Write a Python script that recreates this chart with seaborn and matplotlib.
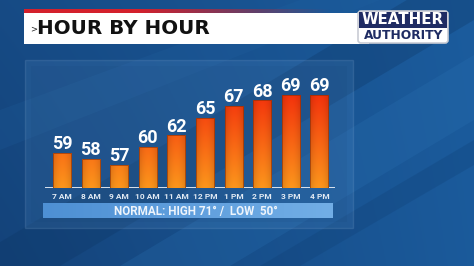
import numpy as np
import pandas as pd
import matplotlib
matplotlib.use("Agg")
import matplotlib.pyplot as plt
import seaborn as sns
from matplotlib.patches import Rectangle, Polygon, FancyBboxPatch
from matplotlib.colors import to_rgb

# ---------------- data ----------------
hours = ["7 AM", "8 AM", "9 AM", "10 AM", "11 AM", "12 PM", "1 PM", "2 PM", "3 PM", "4 PM"]
temps = [59, 58, 57, 60, 62, 65, 67, 68, 69, 69]
normal_high = 71
normal_low = 50
title = "HOUR BY HOUR"

df = pd.DataFrame({"hour": hours, "temp": temps})

sns.set_theme(style="white")
plt.rcParams["font.family"] = ["Roboto", "DejaVu Sans"]

W, H = 474, 266
fig = plt.figure(figsize=(W / 100, H / 100), dpi=100)

# ---------------- background (pixel coordinates) ----------------
bg = fig.add_axes([0, 0, 1, 1])
bg.set_xlim(0, W)
bg.set_ylim(H, 0)
bg.axis("off")

xx, yy = np.meshgrid(np.linspace(0, 1, 200), np.linspace(0, 1, 120))
c_left = np.array(to_rgb("#14437a"))
c_right = np.array(to_rgb("#1d62a6"))
t = np.clip(0.55 * xx + 0.25 * (1 - yy) + 0.2 * xx * yy, 0, 1)[..., None]
img = c_left * (1 - t) + c_right * t
bg.imshow(img, extent=(0, W, H, 0), aspect="auto", zorder=0)

# diagonal stripes
stripes = [
    ([(-40, 266), (60, 266), (474, 20), (474, -40)], "#0d3563", 0.30),
    ([(120, 266), (230, 266), (474, 120), (474, 55)], "#2a72b4", 0.25),
    ([(260, 266), (300, 266), (474, 165), (474, 140)], "#0e3c70", 0.25),
    ([(0, 150), (0, 110), (300, 0), (380, 0)], "#2466a6", 0.18),
]
for pts, col, a in stripes:
    bg.add_patch(Polygon(pts, closed=True, facecolor=col, alpha=a, lw=0, zorder=1))

# translucent panel
bg.add_patch(Rectangle((25, 60), 328, 168, facecolor="#6fa6dc", alpha=0.14,
                       edgecolor="#a9c8e8", lw=1.0, zorder=2))
bg.add_patch(Rectangle((31, 66), 316, 156, facecolor="#0f3a6a", alpha=0.08, lw=0, zorder=2))

# title bar
bg.add_patch(Rectangle((24, 13), 345, 31, facecolor="white", lw=0, zorder=3))
red = np.zeros((1, 300, 4))
red[..., :3] = to_rgb("#d4202c")
red[..., 3] = np.clip(np.linspace(1.6, -0.2, 300), 0, 1)
bg.imshow(red, extent=(24, 369, 13, 9.5), aspect="auto", zorder=3)
bg.text(30, 28.5, ">", fontsize=6, color="#222222", va="center", ha="left", zorder=4,
        family="DejaVu Sans")
bg.text(37.5, 29, title, fontsize=14.3, fontweight="bold", color="#111111",
        va="center", ha="left", zorder=4, family="DejaVu Sans")

# logo
bg.add_patch(FancyBboxPatch((358, 11), 90, 32, boxstyle="round,pad=0,rounding_size=3",
                            facecolor="white", edgecolor="#c9ccd4", lw=1.2, zorder=5))
bg.add_patch(Rectangle((359, 12), 88, 15.5, facecolor="#1f2c63", lw=0, zorder=5))
bg.text(403, 20, "WEATHER", fontsize=10.8, fontweight="bold", color="white",
        ha="center", va="center", zorder=6, family="DejaVu Sans")
bg.text(404, 35.5, "AUTHORITY", fontsize=8.8, fontweight="bold", color="#1f2c63",
        ha="center", va="center", zorder=6, family="DejaVu Sans")

# normal band
band = np.linspace(0, 1, 100)[None, :, None]
band_img = np.array(to_rgb("#4e90d4")) * (1 - band) + np.array(to_rgb("#72aee6")) * band
bg.imshow(band_img, extent=(43, 333, 218, 203), aspect="auto", zorder=5)
bg.text(196, 211, f"NORMAL: HIGH {normal_high}° /  LOW  {normal_low}°", fontsize=8.4,
        fontweight="bold", color="#eef4fb", ha="center", va="center", zorder=6)

# ---------------- bar chart ----------------
base = 53
ax = fig.add_axes([40 / W, (H - 188) / H, 305 / W, 118 / H])
ax.patch.set_alpha(0)
sns.barplot(data=df, x="hour", y="temp", ax=ax, color="#f57a14", width=0.63,
            edgecolor="none", linewidth=0, zorder=3)
ax.set_ylim(base, 73.2)
ax.set_xlim(-0.769, 9.895)

# gradient fill clipped to each bar
ny, nx = 120, 20
gy = np.linspace(0, 1, ny)[:, None, None]
gx = np.linspace(-1, 1, nx)[None, :, None]
c_bot = np.array(to_rgb("#fc961c"))
c_top = np.array(to_rgb("#f3280a"))
grad = c_top * (1 - gy) + c_bot * gy
shade = 1 - 0.12 * gx ** 2
grad = np.clip(grad * shade, 0, 1)
for p in ax.patches:
    x0 = p.get_x()
    w = p.get_width()
    im = ax.imshow(grad, extent=(x0, x0 + w, base, 70.5), aspect="auto", zorder=3.5)
    im.set_clip_path(p)
    ax.add_patch(Rectangle((x0, base), w, p.get_height() + p.get_y() - base, fill=False,
                           edgecolor="#8a3008", lw=0.45, zorder=3.6))

for i, v in enumerate(temps):
    ax.annotate(f"{v}", (i, v), xytext=(0, 2.7), textcoords="offset points",
                ha="center", va="baseline", fontsize=13, fontweight="bold",
                color="white", zorder=4)

ax.plot([-0.6, 9.55], [base + 0.05, base + 0.05], color="#e8eef6", lw=1.3, zorder=2,
        solid_capstyle="butt")
ax.set_xlabel("")
ax.set_ylabel("")
ax.set_yticks([])
ax.tick_params(axis="x", length=0, pad=3.5, labelsize=6, labelcolor="#e3ebf4")
for lab in ax.get_xticklabels():
    lab.set_fontweight("bold")
sns.despine(ax=ax, left=True, bottom=True)

fig.savefig("out.png", dpi=100)
